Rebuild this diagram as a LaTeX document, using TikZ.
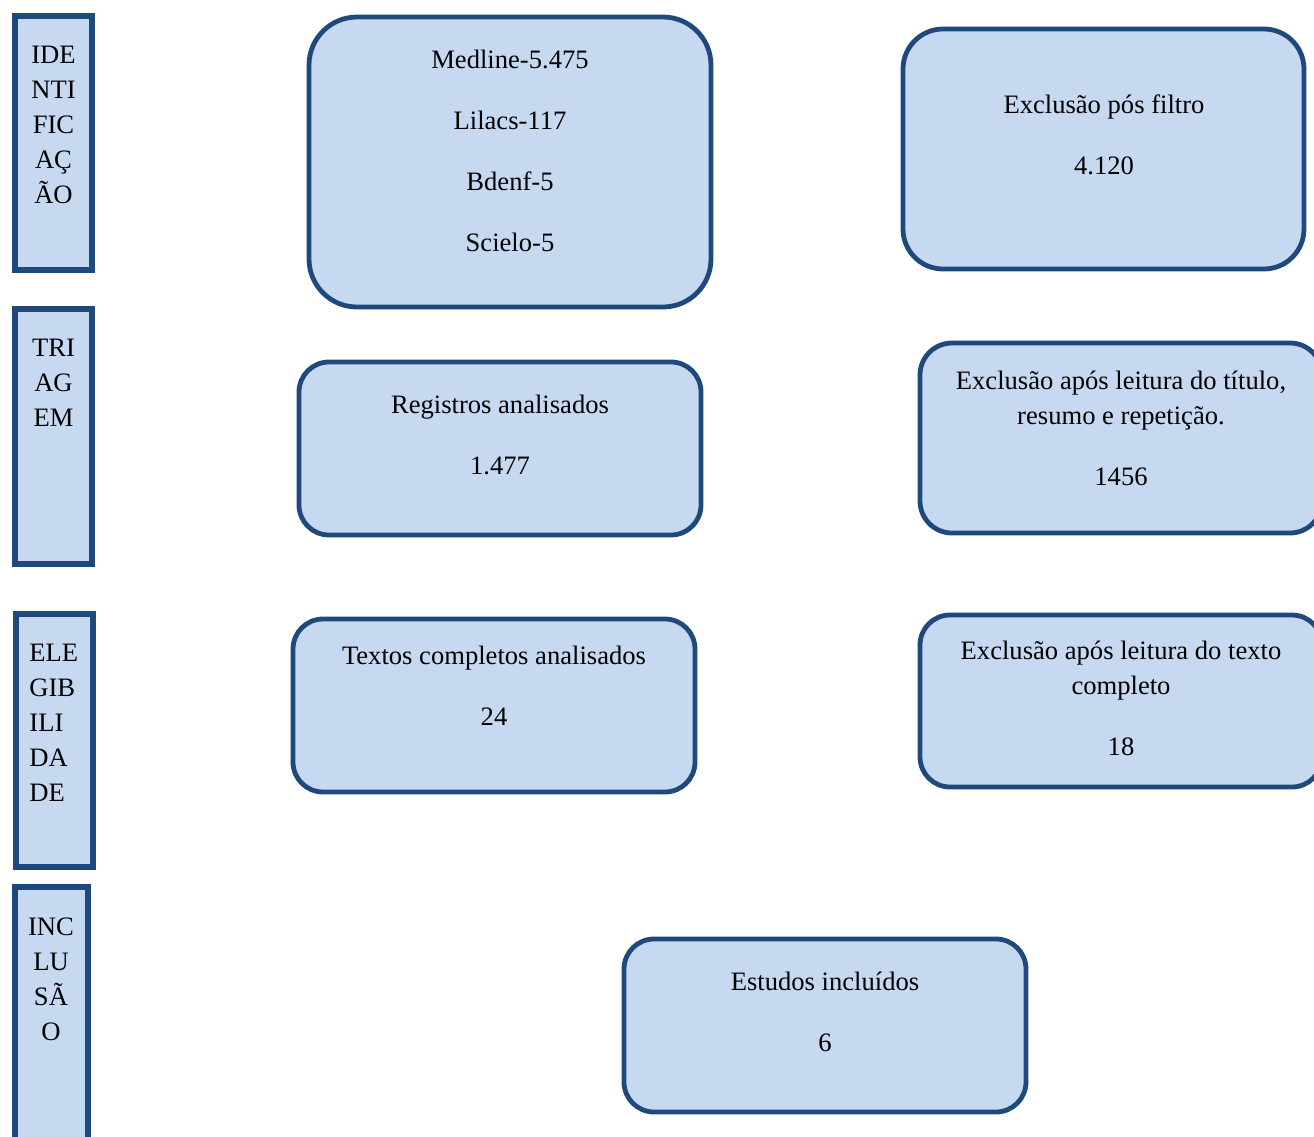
\documentclass[tikz,border=0pt]{standalone}
\usepackage{fontspec}
\setmainfont{Liberation Serif}
\usepackage{tikz}

\definecolor{boxfill}{HTML}{C6D9F1}
\definecolor{boxline}{HTML}{1F497D}

\begin{document}
\begin{tikzpicture}[x=0.5pt,y=-0.5pt,
  panel/.style={rectangle,draw=boxline,fill=boxfill,line width=2.4pt,rounded corners=15pt},
  bar/.style={rectangle,draw=boxline,fill=boxfill,line width=3.2pt},
  txt/.style={inner sep=0pt,align=center,font=\fontsize{13.3}{17.5}\selectfont}]
\useasboundingbox (0,0) rectangle (1314,1137);
% etapas
\node [bar,minimum width=38.5pt,minimum height=127pt] (ident) at (53.5,143) {};
\node [bar,minimum width=38.5pt,minimum height=127.5pt] (triag) at (53.5,436.5) {};
\node [bar,minimum width=38.5pt,minimum height=126.5pt] (eleg) at (54.5,740.5) {};
\node [bar,minimum width=36.5pt,minimum height=129pt] (incl) at (51.5,1016) {};
\node [txt] (identtxt) at (53.5,125) {IDE\\NTI\\FIC\\AÇ\\ÃO};
\node [txt] (triagtxt) at (53.5,383) {TRI\\AG\\EM};
\node [txt,align=left,anchor=west] (elegtxt) at (29,722.5) {ELE\\GIB\\ILI\\DA\\DE};
\node [txt] (incltxt) at (51,979) {INC\\LU\\SÃ\\O};
% caixas
\node [panel,rounded corners=24pt,minimum width=201pt,minimum height=145pt] (bases) at (510,162) {};
\node [txt] (basestxt) at (510,150.5) {Medline-5.475\\[13pt]Lilacs-117\\[13pt]Bdenf-5\\[13pt]Scielo-5};
\node [panel,rounded corners=20pt,minimum width=200.5pt,minimum height=120pt] (filtro) at (1103.5,149) {};
\node [txt] (filtrotxt) at (1104,134.5) {Exclusão pós filtro\\[13pt]4.120};
\node [panel,minimum width=201pt,minimum height=86.5pt] (regis) at (500,448.5) {};
\node [txt] (registxt) at (500,434.5) {Registros analisados\\[13pt]1.477};
\node [panel,rounded corners=16pt,minimum width=201pt,minimum height=95pt] (titulo) at (1121,438) {};
\node [txt] (titulotxt) at (1121,428) {Exclusão após leitura do título,\\resumo e repetição.\\[13pt]1456};
\node [panel,minimum width=201pt,minimum height=86.5pt] (textos) at (494,705.5) {};
\node [txt] (textostxt) at (494,685.5) {Textos completos analisados\\[13pt]24};
\node [panel,minimum width=201pt,minimum height=86pt] (leitura) at (1121,701) {};
\node [txt] (leituratxt) at (1121,698) {Exclusão após leitura do texto\\completo\\[13pt]18};
\node [panel,minimum width=201pt,minimum height=86.5pt] (estudos) at (825,1025.5) {};
\node [txt] (estudostxt) at (825,1011.5) {Estudos incluídos\\[13pt]6};
\end{tikzpicture}
\end{document}
